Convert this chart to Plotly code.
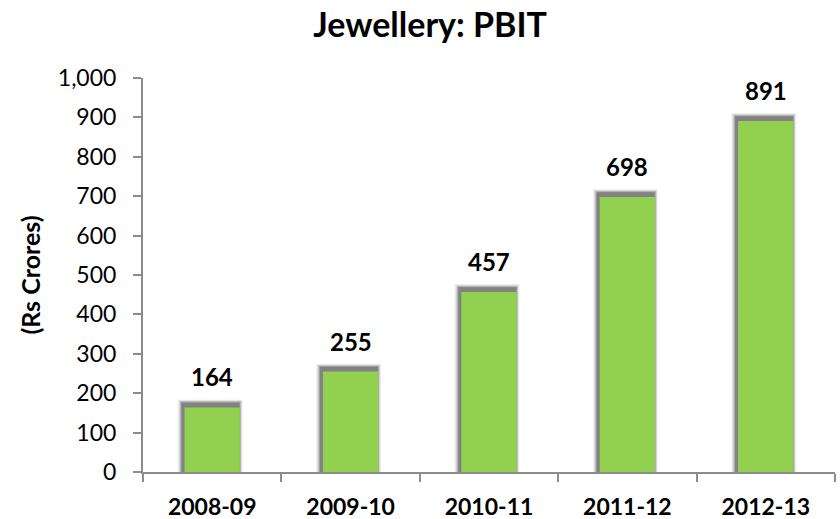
import plotly.graph_objects as go

years = ["2008-09", "2009-10", "2010-11", "2011-12", "2012-13"]
pbit = [164, 255, 457, 698, 891]

FONT = "Lato, 'Open Sans', sans-serif"

fig = go.Figure()
# soft shadow layers behind bars (blur imitation)
for w, off, extra, col in [
    (0.470, -0.250, 20, "rgba(0,0,0,0.05)"),
    (0.456, -0.242, 18, "rgba(0,0,0,0.08)"),
    (0.444, -0.235, 16, "rgba(0,0,0,0.12)"),
    (0.432, -0.228, 14, "rgba(0,0,0,0.16)"),
    (0.420, -0.222, 12, "rgba(0,0,0,0.20)"),
]:
    fig.add_trace(go.Bar(
        x=years, y=[v + extra for v in pbit], width=w, offset=off,
        marker=dict(color=col, line=dict(width=0)),
        hoverinfo="skip", showlegend=False,
    ))
fig.add_trace(go.Bar(
    x=years, y=pbit, width=0.4, offset=-0.2,
    marker=dict(color="#92D050", line=dict(width=0)),
    showlegend=False,
))

for yr, v in zip(years, pbit):
    fig.add_annotation(x=yr, y=v, text=f"<b>{v}</b>", showarrow=False,
                       yanchor="bottom", yshift=14,
                       font=dict(family=FONT, size=24, color="black"))

fig.update_layout(
    width=840, height=519,
    barmode="overlay",
    plot_bgcolor="white", paper_bgcolor="white",
    margin=dict(l=143, r=5, t=78, b=47, autoexpand=False),
    title=dict(text="<b>Jewellery: PBIT</b>", x=0.512, xanchor="center", y=0.952, yanchor="middle",
               font=dict(family=FONT, size=34, color="black")),
    font=dict(family=FONT, color="black"),
)
fig.update_xaxes(
    type="category",
    showline=True, linecolor="#8c8c8c", linewidth=2,
    ticks="outside", tickson="boundaries", ticklen=8, tickcolor="#8c8c8c", tickwidth=2,
    tickfont=dict(family=FONT, size=23, weight="bold"), showgrid=False,
    ticklabelstandoff=13, automargin=False,
)
fig.update_yaxes(
    range=[0, 1000], dtick=100, tickformat=",",
    showline=True, linecolor="#8c8c8c", linewidth=2,
    ticks="outside", ticklen=8, tickcolor="#8c8c8c", tickwidth=2,
    tickfont=dict(family=FONT, size=23), showgrid=False, zeroline=False,
    ticklabelstandoff=12, automargin=False,
    title=dict(text="<b>(Rs Crores)</b>", font=dict(family=FONT, size=25), standoff=10),
)
fig.write_html("out.html", config={"displayModeBar": False})

with open("out.html", "r", encoding="utf-8") as f:
    html = f.read()
html = html.replace("<body>", '<body style="margin:0;padding:0;overflow:hidden">', 1)
with open("out.html", "w", encoding="utf-8") as f:
    f.write(html)
